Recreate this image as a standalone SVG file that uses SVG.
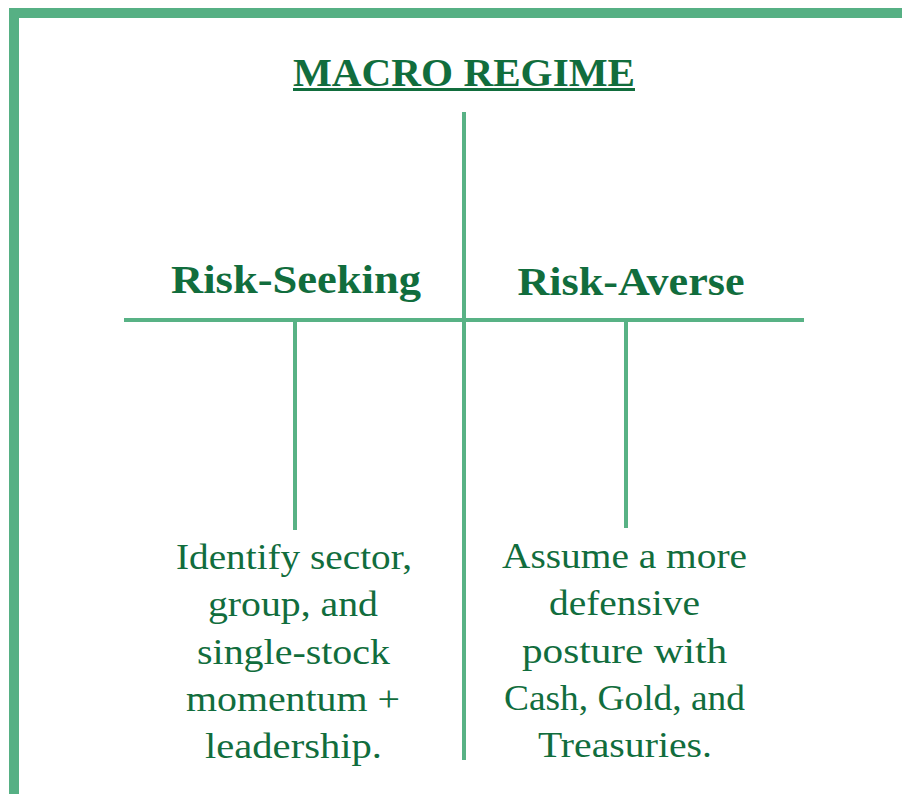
<svg xmlns="http://www.w3.org/2000/svg" width="902" height="794" viewBox="0 0 902 794">
<style>
.t{font-family:"Liberation Serif","Times New Roman",serif;fill:#116D3D;text-anchor:middle}
.h{font-weight:bold;font-size:40px}
.b{font-size:36px}
.ln{stroke:#58B285;stroke-width:4;fill:none}
</style>
<rect width="902" height="794" fill="#fff"/>
<path d="M14,794 V13 H902" fill="none" stroke="#56B084" stroke-width="10"/>
<g id="title">
<text class="t h" x="464" y="86" font-size="44" textLength="342" lengthAdjust="spacingAndGlyphs">MACRO REGIME</text>
<rect x="293" y="88" width="342" height="3" fill="#116D3D"/>
</g>
<g id="connectors">
<line class="ln" x1="464" y1="112" x2="464" y2="760"/>
<line class="ln" x1="124" y1="320" x2="804" y2="320"/>
<line class="ln" x1="295" y1="320" x2="295" y2="530"/>
<line class="ln" x1="626" y1="320" x2="626" y2="528"/>
</g>
<g id="risk-seeking">
<text class="t h" x="296" y="293" textLength="250" lengthAdjust="spacingAndGlyphs">Risk-Seeking</text>
</g>
<g id="risk-averse">
<text class="t h" x="631" y="295" textLength="227" lengthAdjust="spacingAndGlyphs">Risk-Averse</text>
</g>
<g id="seeking-desc">
<text class="t b" x="294" y="569" textLength="236" lengthAdjust="spacingAndGlyphs">Identify sector,</text>
<text class="t b" x="293" y="616" textLength="170" lengthAdjust="spacingAndGlyphs">group, and</text>
<text class="t b" x="293.5" y="664" textLength="193" lengthAdjust="spacingAndGlyphs">single-stock</text>
<text class="t b" x="293" y="711" textLength="214" lengthAdjust="spacingAndGlyphs">momentum +</text>
<text class="t b" x="293.5" y="758" textLength="177" lengthAdjust="spacingAndGlyphs">leadership.</text>
</g>
<g id="averse-desc">
<text class="t b" x="624.5" y="568" textLength="245" lengthAdjust="spacingAndGlyphs">Assume a more</text>
<text class="t b" x="624.5" y="615" textLength="151" lengthAdjust="spacingAndGlyphs">defensive</text>
<text class="t b" x="624.5" y="663" textLength="205" lengthAdjust="spacingAndGlyphs">posture with</text>
<text class="t b" x="624.5" y="710" textLength="241" lengthAdjust="spacingAndGlyphs">Cash, Gold, and</text>
<text class="t b" x="625" y="757" textLength="174" lengthAdjust="spacingAndGlyphs">Treasuries.</text>
</g>
</svg>
